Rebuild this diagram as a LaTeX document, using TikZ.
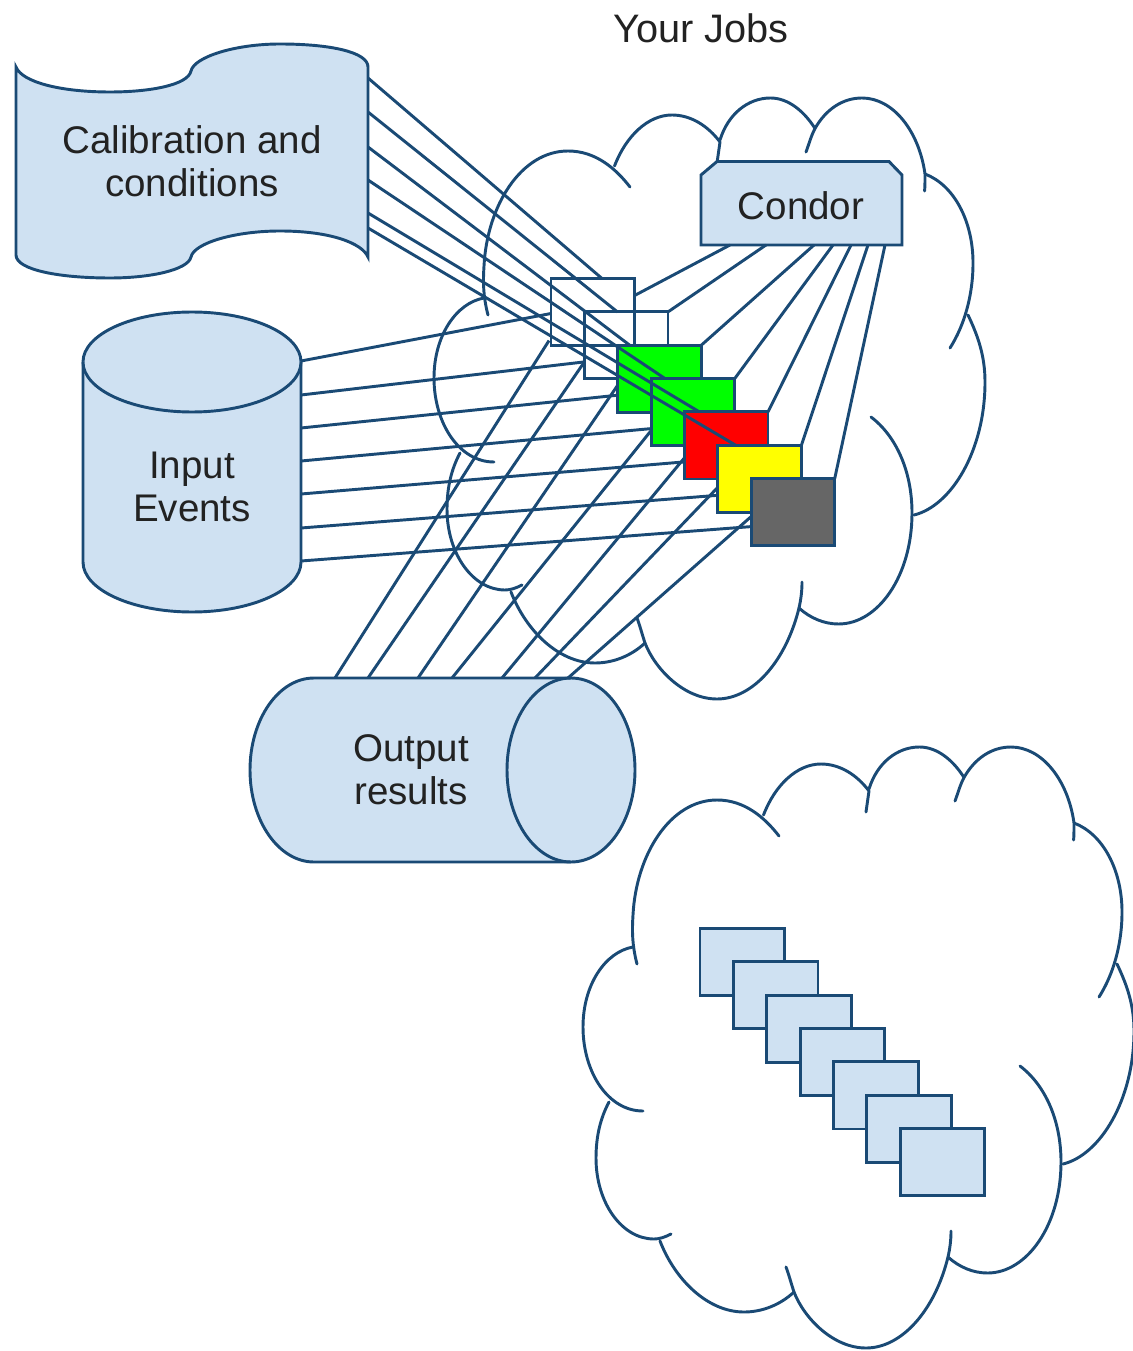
\documentclass[tikz,border=0pt]{standalone}
\usetikzlibrary{calc}
\usepackage{fontspec}
\setmainfont{Liberation Sans}
\definecolor{edgeblue}{HTML}{1A4A75}
\definecolor{fillblue}{HTML}{CFE1F2}
\definecolor{jobgray}{HTML}{666666}
\definecolor{jobyellow}{HTML}{FFFF00}
\definecolor{txt}{HTML}{222222}
\pgfdeclarelayer{c1}\pgfdeclarelayer{n1}\pgfdeclarelayer{c2}\pgfdeclarelayer{n2}
\pgfdeclarelayer{c3}\pgfdeclarelayer{n3}\pgfdeclarelayer{c4}\pgfdeclarelayer{n4}
\pgfdeclarelayer{c5}\pgfdeclarelayer{n5}\pgfdeclarelayer{c6}\pgfdeclarelayer{n6}
\pgfdeclarelayer{c7}\pgfdeclarelayer{n7}
\pgfsetlayers{main,c1,n1,c2,n2,c3,n3,c4,n4,c5,n5,c6,n6,c7,n7}
\tikzset{
  edge/.style={draw=edgeblue,line width=2.2pt},
  link/.style={edge},
  solidshape/.style={edge,fill=fillblue},
  jobbox/.style={edge,rectangle,anchor=north west,minimum width=63.5pt,minimum height=50.3pt,inner sep=0pt,outer sep=0pt},
  topbox/.style={jobbox,minimum width=62.7pt},
  label/.style={text=txt,align=center,font=\fontsize{28.9}{32}\selectfont,inner sep=0pt},
  cloudline/.style={edge,line cap=round,line join=round},
}
\newcommand{\cloudarcs}{%
  \draw[cloudline] (637,964) .. controls (632,945) and (632,930) .. (633,915) .. controls (636,855) and (670,800) .. (717,800) .. controls (745,800) and (765,818) .. (779,836);
  \draw[cloudline] (763.5,815) .. controls (775,785) and (797,764) .. (821,764) .. controls (840,764) and (857,775) .. (869,791) .. controls (868,798) and (867,805) .. (866,812);
  \draw[cloudline] (869,789) .. controls (877,763) and (897,747) .. (919.5,747) .. controls (937,747) and (953,760) .. (964,777.5);
  \draw[cloudline] (955,801) .. controls (958,793) and (960,785) .. (964,777.5) .. controls (975,758) and (992,747) .. (1011,747) .. controls (1042,747) and (1068,780) .. (1074,823) .. controls (1074,829) and (1074,835) .. (1073.6,840);
  \draw[cloudline] (1074,823) .. controls (1103,834) and (1122,870) .. (1122,912) .. controls (1122,945) and (1113,975) .. (1099,997);
  \draw[cloudline] (1117,964) .. controls (1127,985) and (1134,1005) .. (1134,1031) .. controls (1134,1100) and (1100,1155) .. (1063,1164);
  \draw[cloudline] (1020,1066) .. controls (1045,1085) and (1061,1120) .. (1061,1162) .. controls (1061,1225) and (1027,1273) .. (987.5,1273) .. controls (973,1273) and (959,1267) .. (948,1257);
  \draw[cloudline] (951,1231) .. controls (951,1240) and (950,1248) .. (948,1257) .. controls (935,1310) and (902,1348) .. (866,1348) .. controls (833,1348) and (804,1318) .. (794,1292) .. controls (791,1283) and (789,1275) .. (786,1267);
  \draw[cloudline] (794,1292) .. controls (780,1305) and (762,1312) .. (744,1312) .. controls (708,1312) and (675,1280) .. (660,1241);
  \draw[cloudline] (671,1234) .. controls (665,1237) and (660,1239) .. (654,1239) .. controls (622,1239) and (596,1203) .. (596,1158) .. controls (596,1135) and (601,1117) .. (609,1102);
  \draw[cloudline] (643,1111) .. controls (608,1111) and (583,1072) .. (583,1027) .. controls (583,985) and (605,952) .. (633,947);
}
\begin{document}
\begin{tikzpicture}[x=0.75pt,y=-0.75pt]
\useasboundingbox (0,0) rectangle (1132,1351);

% clouds
\cloudarcs
\begin{scope}[shift={(-149,-649)}]
\cloudarcs
\end{scope}

% bottom stack of boxes
\foreach \i in {0,...,6}{
  \node[jobbox,fill=fillblue] (s\i) at ({700+33.35*\i},{928.5+33.35*\i}) {};
}

% top stack of boxes
\begin{pgfonlayer}{n1}\node[topbox] (b1) at (551,278.5) {};\end{pgfonlayer}
\begin{pgfonlayer}{n2}\node[topbox] (b2) at (584.4,311.9) {};\end{pgfonlayer}
\begin{pgfonlayer}{n3}\node[topbox,fill=green] (b3) at (617.7,345.2) {};\end{pgfonlayer}
\begin{pgfonlayer}{n4}\node[topbox,fill=green] (b4) at (651.1,378.6) {};\end{pgfonlayer}
\begin{pgfonlayer}{n5}\node[topbox,fill=red] (b5) at (684.4,411.9) {};\end{pgfonlayer}
\begin{pgfonlayer}{n6}\node[topbox,fill=jobyellow] (b6) at (717.8,445.3) {};\end{pgfonlayer}
\begin{pgfonlayer}{n7}\node[topbox,fill=jobgray] (b7) at (751.1,478.6) {};\end{pgfonlayer}

% source shapes
\draw[solidshape] (16,67) .. controls (22,82) and (60,92) .. (110,92) .. controls (150,92) and (188,85) .. (191,71) .. controls (194,57) and (235,44) .. (280,44) .. controls (330,44) and (368,52) .. (368,67)
  -- (368,257) .. controls (362,243) and (330,231) .. (280,231) .. controls (235,231) and (194,243) .. (191,257) .. controls (188,270) and (150,278) .. (110,278) .. controls (60,278) and (16,270) .. (16,255) -- cycle;
\node[label] (calib) at (192,161) {Calibration and\\conditions};

\draw[solidshape] (83,362) -- (83,562) arc[start angle=180,end angle=360,x radius=109,y radius=-50] -- (301,362) arc[start angle=0,end angle=180,x radius=109,y radius=-50] -- cycle;
\draw[solidshape] (83,362) arc[start angle=180,end angle=360,x radius=109,y radius=-50];
\node[label] (input) at (192,487) {Input\\Events};

\draw[solidshape] (314,678) -- (571,678) arc[start angle=90,end angle=-90,x radius=64,y radius=-92] -- (314,862) arc[start angle=-90,end angle=-270,x radius=64,y radius=-92] -- cycle;
\draw[edge] (571,678) arc[start angle=90,end angle=270,x radius=64,y radius=-92];
\node[label] (output) at (411,770) {Output\\results};

\draw[solidshape] (701,245) -- (701,175) -- (717,161.5) -- (889,161.5) -- (902,175) -- (902,245) -- cycle;
\node[label] (condor) at (801,206) {Condor};

\node[label,font=\fontsize{29.8}{32}\selectfont] (title) at (701,28) {Your Jobs};

% named ends of the connectors
\foreach \n/\y in {1/78,2/112,3/147,4/180,5/213,6/228}{\coordinate (cal\n) at (368,\y);}
\foreach \n/\y in {1/361,2/395,3/428,4/461,5/494,6/528,7/561}{\coordinate (in\n) at (301,\y);}
\foreach \n/\x in {1/335,2/368,3/418,4/452,5/502,6/535,7/568}{\coordinate (out\n) at (\x,678);}
\foreach \n/\x in {1/730,2/766,3/814,4/833,5/851,6/868,7/885}{\coordinate (con\n) at (\x,245);}

% connectors, each under its own box and over the boxes before it
\begin{pgfonlayer}{c1}
\draw[link] (cal1) -- ($(b1.north west)+(51,0)$);
\draw[link] (in1) -- ($(b1.north west)+(0,35)$);
\draw[link] (out1) -- ($(b1.south west)+(-2,-5)$);
\draw[link] (con1) -- ($(b1.north east)+(0,17)$);
\end{pgfonlayer}
\begin{pgfonlayer}{c2}
\draw[link] (cal2) -- ($(b2.north west)+(33,0)$);
\draw[link] (in2) -- ($(b2.north west)+(0,50)$);
\draw[link] (out2) -- ($(b2.north west)+(0,50)$);
\draw[link] (con2) -- (b2.north east);
\end{pgfonlayer}
\begin{pgfonlayer}{c3}
\draw[link] (cal3) -- ($(b3.north west)+(12,0)$);
\draw[link] (in3) -- ($(b3.north west)+(0,50)$);
\draw[link] (out3) -- ($(b3.north west)+(0,40)$);
\draw[link] (con3) -- (b3.north east);
\end{pgfonlayer}
\begin{pgfonlayer}{c4}
\draw[link] (cal4) -- ($(b4.north west)+(14,0)$);
\draw[link] (in4) -- ($(b4.north west)+(0,50)$);
\draw[link] (out4) -- ($(b4.north west)+(0,52)$);
\draw[link] (con4) -- (b4.north east);
\end{pgfonlayer}
\begin{pgfonlayer}{c5}
\draw[link] (cal5) -- ($(b5.north west)+(15,0)$);
\draw[link] (in5) -- ($(b5.north west)+(0,50)$);
\draw[link] (out5) -- ($(b5.north west)+(0,46)$);
\draw[link] (con5) -- (b5.north east);
\end{pgfonlayer}
\begin{pgfonlayer}{c6}
\draw[link] (cal6) -- ($(b6.north west)+(18,0)$);
\draw[link] (in6) -- ($(b6.north west)+(0,50)$);
\draw[link] (out6) -- ($(b6.north west)+(0,42)$);
\draw[link] (con6) -- (b6.north east);
\end{pgfonlayer}
\begin{pgfonlayer}{c7}
\draw[link] (in7) -- ($(b7.north west)+(0,48)$);
\draw[link] (out7) -- ($(b7.north west)+(0,38)$);
\draw[link] (con7) -- (b7.north east);
\end{pgfonlayer}
\end{tikzpicture}
\end{document}
